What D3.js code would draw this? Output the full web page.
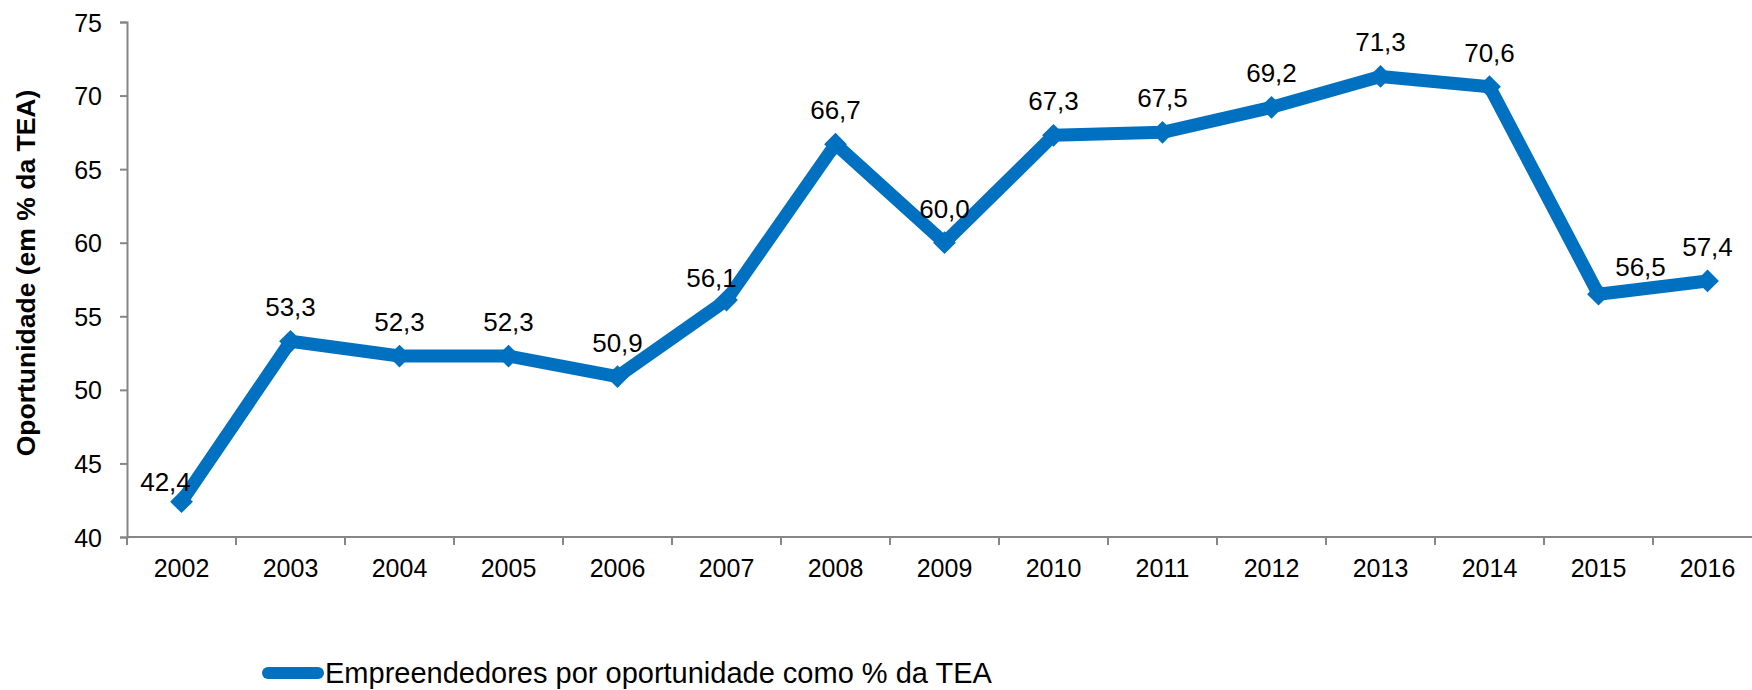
<!DOCTYPE html>
<html lang="pt">
<head>
<meta charset="UTF-8">
<title>Empreendedores por oportunidade</title>
<script src="https://d3js.org/d3.v7.min.js"></script>
<style>
  body { margin: 0; background: #fff; }
  svg text { font-family: "Liberation Sans", Arial, sans-serif; fill: #000; }
</style>
</head>
<body>
<svg id="chart" width="1752" height="690"></svg>
<script>
// data
var years = ["2002","2003","2004","2005","2006","2007","2008","2009","2010","2011","2012","2013","2014","2015","2016"];
var values = [42.4, 53.3, 52.3, 52.3, 50.9, 56.1, 66.7, 60.0, 67.3, 67.5, 69.2, 71.3, 70.6, 56.5, 57.4];
var yTicks = [40, 45, 50, 55, 60, 65, 70, 75];
var seriesName = "Empreendedores por oportunidade como % da TEA";
var yTitle = "Oportunidade (em % da TEA)";
// a few labels were moved by hand in the original [dx, dy]
var labelNudge = {0: [-16, 14], 5: [-15, 12], 13: [42, 7]};

var svg = d3.select("#chart");
var blue = "#0070C0", grey = "#868686";

var x = d3.scaleBand().domain(years).range([127, 1762]);
var y = d3.scaleLinear().domain([40, 75]).range([537, 22]);
var cx = function(d, i) { return x(years[i]) + x.bandwidth() / 2; };

// y axis
var yAxis = svg.append("g")
  .attr("transform", "translate(127,0)")
  .call(d3.axisLeft(y).tickValues(yTicks).tickSize(7).tickPadding(18));
yAxis.select(".domain").attr("stroke", grey).attr("stroke-width", 2);
yAxis.selectAll(".tick line").attr("stroke", grey).attr("stroke-width", 2);
yAxis.selectAll(".tick text").style("font-size", "25px").attr("dy", "0.36em");

// x axis - ticks between categories
svg.append("line")
  .attr("x1", 127).attr("x2", 1762).attr("y1", 537).attr("y2", 537)
  .attr("stroke", grey).attr("stroke-width", 2);
svg.append("g").selectAll("line")
  .data(years.concat(["end"]))
  .enter().append("line")
  .attr("x1", function(d, i) { return 127 + i * x.bandwidth(); })
  .attr("x2", function(d, i) { return 127 + i * x.bandwidth(); })
  .attr("y1", 537).attr("y2", 545)
  .attr("stroke", grey).attr("stroke-width", 2);
svg.append("g").selectAll("text")
  .data(years)
  .enter().append("text")
  .attr("x", function(d) { return x(d) + x.bandwidth() / 2; })
  .attr("y", 577)
  .attr("text-anchor", "middle")
  .style("font-size", "25px")
  .text(function(d) { return d; });

// y title
svg.append("text")
  .attr("transform", "translate(35,273) rotate(-90)")
  .attr("text-anchor", "middle")
  .style("font-size", "26.5px")
  .style("font-weight", "bold")
  .text(yTitle);

// line
var line = d3.line()
  .x(cx)
  .y(function(d) { return y(d); });
svg.append("path")
  .datum(values)
  .attr("d", line)
  .attr("fill", "none")
  .attr("stroke", blue)
  .attr("stroke-width", 13)
  .attr("stroke-linejoin", "bevel");

// diamond markers
var diamond = d3.symbol().type(d3.symbolDiamond2).size(330);
svg.append("g").selectAll("path")
  .data(values)
  .enter().append("path")
  .attr("d", diamond)
  .attr("transform", function(d, i) { return "translate(" + cx(d, i) + "," + y(d) + ")"; })
  .attr("fill", blue);

// data labels
svg.append("g").selectAll("text")
  .data(values)
  .enter().append("text")
  .attr("x", function(d, i) { return cx(d, i) + (labelNudge[i] ? labelNudge[i][0] : 0); })
  .attr("y", function(d, i) { return y(d) - 25 + (labelNudge[i] ? labelNudge[i][1] : 0); })
  .attr("text-anchor", "middle")
  .style("font-size", "26px")
  .text(function(d) { return d.toFixed(1).replace(".", ","); });

// legend
var lg = svg.append("g");
lg.append("line")
  .attr("x1", 268).attr("x2", 318).attr("y1", 673).attr("y2", 673)
  .attr("stroke", blue).attr("stroke-width", 12).attr("stroke-linecap", "round");
lg.append("path")
  .attr("d", d3.symbol().type(d3.symbolDiamond2).size(40))
  .attr("transform", "translate(293,673)")
  .attr("fill", blue);
lg.append("text")
  .attr("x", 325).attr("y", 683)
  .style("font-size", "29px")
  .text(seriesName);
</script>
</body>
</html>
